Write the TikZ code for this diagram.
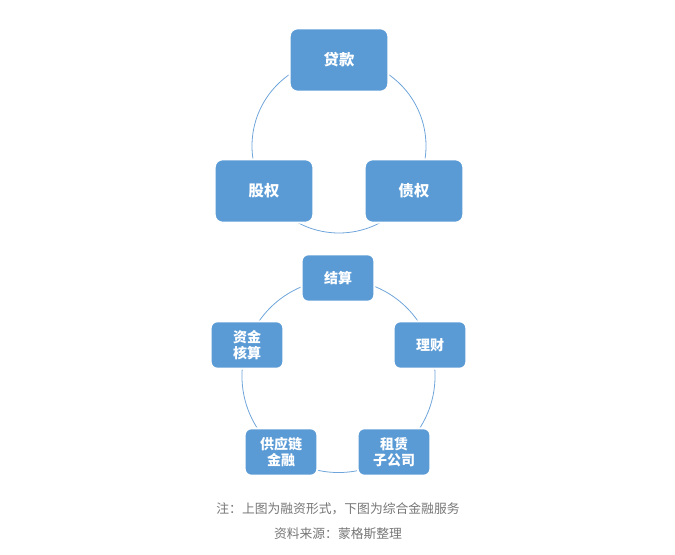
\documentclass[tikz,border=0pt]{standalone}
\usepackage{fontspec}
\newfontfamily\cjk{Noto Sans CJK SC}
\definecolor{boxblue}{HTML}{5B9BD5}
\definecolor{ringblue}{HTML}{6FA5DA}
\definecolor{notegray}{HTML}{767676}
\tikzset{
  bigbox/.style={draw=white,line width=1.5pt,fill=boxblue,rounded corners=6pt,
    minimum width=74pt,minimum height=47.5pt,text=white,font=\cjk\bfseries\fontsize{11.5}{13}\selectfont},
  smallbox/.style={draw=white,line width=1.5pt,fill=boxblue,rounded corners=5pt,
    minimum width=54.5pt,minimum height=35.5pt,text=white,align=center,
    font=\cjk\bfseries\fontsize{10.5}{12}\selectfont},
  ring/.style={draw=ringblue,line width=0.6pt},
  note/.style={text=notegray,font=\cjk\fontsize{9.6}{11}\selectfont}
}
\begin{document}
\begin{tikzpicture}[x=0.75pt,y=-0.75pt]
  \useasboundingbox (0,0) rectangle (675,555);
  % top cycle
  \coordinate (topc) at (339,146);
  \draw[ring] (topc) circle (65.25pt);
  \path (339,60) node[bigbox] (loan) {贷款};
  \path (264,191) node[bigbox] (equity) {股权};
  \path (414,191) node[bigbox] (debt) {债权};
  % bottom cycle
  \coordinate (botc) at (338.5,376);
  \draw[ring] (botc) circle (72.4pt);
  \path (338,278) node[smallbox] (settle) {结算};
  \path (430,345) node[smallbox] (wealth) {理财};
  \path (247,345) node[smallbox] (fund) {资金\\核算};
  \path (281,452) node[smallbox] (supply) {供应链\\金融};
  \path (394,452) node[smallbox] (lease) {租赁\\子公司};
  % notes
  \path (338,509) node[note] (note1) {注：上图为融资形式，下图为综合金融服务};
  \path (338,534) node[note] (note2) {资料来源：蒙格斯整理};
\end{tikzpicture}
\end{document}
